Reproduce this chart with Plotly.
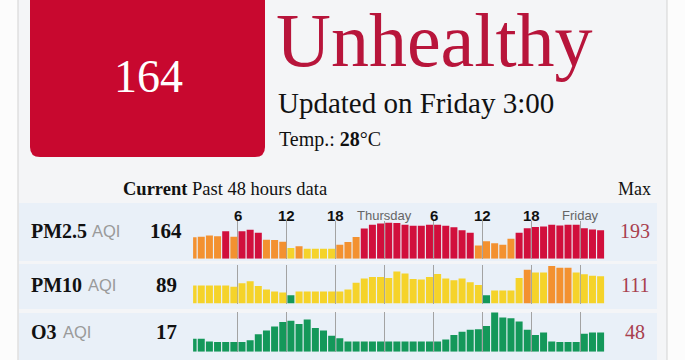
import plotly.graph_objects as go

W, H = 685, 360


def px(x):
    return x / W


def py(y):
    return 1 - y / H


# ---------------- data ----------------
pollutants = ["PM2.5", "PM10", "O3"]
current = [164, 89, 17]
maxima = [193, 111, 48]
hours = list(range(51))  # Wed 0:00 ... Fri 2:00 (hourly, 51 bars)
pm25 = [137, 139, 144, 141, 160, 139, 160, 166, 154, 127,
        126, 120, 96, 102, 93, 93, 93, 93, 108, 119,
        138, 171, 185, 190, 193, 192, 185, 181, 181, 185,
        185, 181, 175, 164, 154, 105, 122, 114, 108, 131,
        154, 172, 176, 178, 185, 182, 185, 185, 172, 167, 164]
pm10 = [69, 69, 69, 69, 69, 66, 74, 78, 68, 60,
        56, 54, 48, 56, 56, 56, 56, 56, 56, 60,
        75, 84, 87, 87, 85, 99, 95, 83, 82, 87,
        94, 84, 80, 84, 76, 70, 48, 58, 58, 58,
        85, 103, 97, 97, 111, 107, 107, 97, 93, 90, 89]
o3 = [7, 7, 3, 2, 2, 2, 2, 5, 14, 20,
      26, 33, 35, 30, 37, 24, 20, 12, 8, 3,
      3, 3, 3, 3, 3, 3, 3, 3, 3, 3,
      3, 6, 13, 18, 21, 22, 27, 48, 40, 39,
      34, 21, 13, 17, 3, 2, 2, 2, 15, 17, 17]
tick_vals = [6, 12, 18, 24, 30, 36, 42, 48]
tick_text = ["6", "12", "18", "Thursday", "6", "12", "18", "Friday"]

status = "Unhealthy"
updated = "Updated on Friday 3:00"
temp_c = 28

# ---------------- style ----------------
RED = "#d10f3c"
ORANGE = "#f39130"
YELLOW = "#f5d32a"
GREEN = "#14985a"
SERIF = "Liberation Serif, Times New Roman, serif"
SANS = "Liberation Sans, Arial, sans-serif"
NARROW = "Liberation Sans Narrow, Arial Narrow, Liberation Sans, sans-serif"


def aqi_color(v):
    if v <= 50:
        return GREEN
    if v <= 100:
        return YELLOW
    if v <= 150:
        return ORANGE
    return RED


series = [pm25, pm10, o3]
# (axis min, axis max, top px, bottom px)
row_axes = [(54, 199.5, 221, 258.8), (30, 113.2, 265, 303.5), (-12.9, 49.1, 311.7, 351.7)]

fig = go.Figure()
for k, vals in enumerate(series):
    lo = row_axes[k][0]
    suffix = "" if k == 0 else str(k + 1)
    fig.add_trace(go.Bar(
        x=[h + 0.5 for h in hours],
        y=[v - lo for v in vals],
        base=lo,
        customdata=vals,
        hovertemplate="%{customdata}<extra>" + pollutants[k] + "</extra>",
        marker=dict(color=[aqi_color(v) for v in vals], line=dict(width=0)),
        xaxis="x" + suffix, yaxis="y" + suffix, showlegend=False,
    ))

layout_axes = {}
for k in range(3):
    lo, hi, top, bot = row_axes[k]
    suffix = "" if k == 0 else str(k + 1)
    layout_axes["xaxis" + suffix] = dict(
        domain=[px(193.1), px(604.7)], range=[0.5, 51], tickvals=tick_vals,
        showticklabels=False, ticks="", showgrid=True, gridcolor="#a3a3a3",
        gridwidth=1, zeroline=False, showline=False, fixedrange=True,
        anchor="y" + suffix,
    )
    layout_axes["yaxis" + suffix] = dict(
        domain=[py(bot), py(top)], range=[lo, hi], visible=False,
        showgrid=False, zeroline=False, fixedrange=True, anchor="x" + suffix,
    )

shapes = [
    # card
    dict(type="rect", xref="paper", yref="paper", x0=px(18), x1=px(667),
         y0=py(375), y1=py(-15), fillcolor="#f4f5f7",
         line=dict(color="#d3d3d3", width=1), layer="below"),
]
# row bands
for (t, b) in [(203, 261), (264, 309), (313, 365)]:
    shapes.append(dict(type="rect", xref="paper", yref="paper", x0=px(19), x1=px(657),
                       y0=py(b), y1=py(t), fillcolor="#e9f0f8",
                       line=dict(width=0), layer="below"))

# red box with rounded bottom corners
x0, x1, yt, yb, r = 30, 265, -10, 157, 10
path = (f"M {px(x0)},{py(yt)} L {px(x1)},{py(yt)} L {px(x1)},{py(yb - r)} "
        f"Q {px(x1)},{py(yb)} {px(x1 - r)},{py(yb)} L {px(x0 + r)},{py(yb)} "
        f"Q {px(x0)},{py(yb)} {px(x0)},{py(yb - r)} Z")
shapes.append(dict(type="path", xref="paper", yref="paper", path=path,
                   fillcolor="#c8082f", line=dict(width=0), layer="below"))

ann = []


def text(x, y, s, size, color="#111", family=SERIF, xanchor="left", **kw):
    ann.append(dict(x=px(x), y=py(y), xref="paper", yref="paper", text=s,
                    showarrow=False, xanchor=xanchor, yanchor="middle",
                    font=dict(size=size, color=color, family=family), **kw))


text(148, 76, str(current[0]), 46, color="white", xanchor="center")
text(274, 40, status, 76, color="#b8153b")
text(276, 103, updated, 29, color="#111")
text(277, 140, f"Temp.: <b>{temp_c}</b>°C", 20, color="#111")
text(121, 189, "<b>Current</b> Past 48 hours data", 18.5, color="#111")
text(616, 189, "Max", 18, color="#111")

label_y = [231, 285, 332]
aqi_x = [90, 86, 61]
for k in range(3):
    text(29, label_y[k], f"<b>{pollutants[k]}</b>", 20, color="#111")
    text(aqi_x[k], label_y[k], "AQI", 16.5, color="#9a9a9a", family=SANS)
    text(166, label_y[k], f"<b>{current[k]}</b>", 21, color="#111", xanchor="center")
    text(635, label_y[k], str(maxima[k]), 20, color="#a8404e", xanchor="center")

# hour tick labels above the first row
for v, t in zip(tick_vals, tick_text):
    is_day = not t.isdigit()
    ann.append(dict(x=v, y=py(215), xref="x", yref="paper",
                    text=t if is_day else f"<b>{t}</b>", showarrow=False,
                    xanchor="center", yanchor="middle",
                    font=dict(size=13 if is_day else 15,
                              color="#666" if is_day else "#111", family=NARROW)))

fig.update_layout(
    width=W, height=H, autosize=False,
    margin=dict(l=0, r=0, t=0, b=0),
    paper_bgcolor="#fcfcfc", plot_bgcolor="rgba(0,0,0,0)",
    bargap=0.14, shapes=shapes, annotations=ann,
    **layout_axes,
)

fig.write_html("out.html", config={"displayModeBar": False},
               post_script="document.body.style.margin='0';")
